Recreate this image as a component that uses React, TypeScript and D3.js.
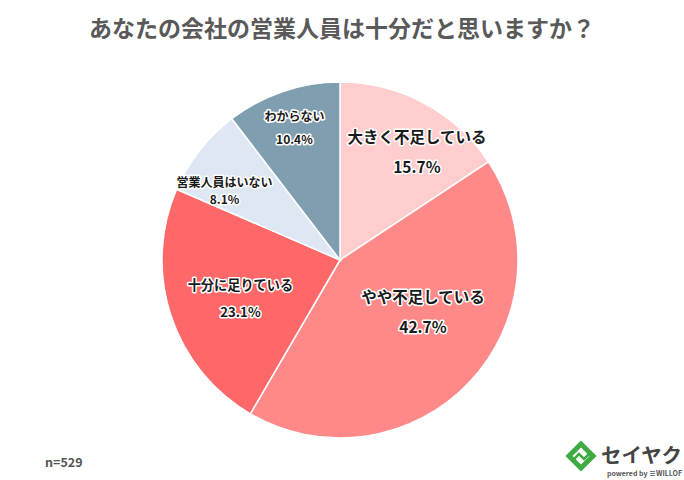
import React from "react";
import * as d3 from "d3";

const categories = ["大きく不足している", "やや不足している", "十分に足りている", "営業人員はいない", "わからない"];
const values = [15.7, 42.7, 23.1, 8.1, 10.4];
const colors = ["#FFCDCD", "#FF8888", "#FF6868", "#DEE8F5", "#7F9FB1"];
const title = "あなたの会社の営業人員は十分だと思いますか？";
const note = "n=529";

// label placement: radius fraction, angle shift (deg) from slice bisector, font size, line gap
const labelStyle = [
  { size: 15.5, r: 0.745, shift: 7.2, gap: 30 },
  { size: 15.5, r: 0.55, shift: -11.3, gap: 30 },
  { size: 13.2, r: 0.6, shift: -3, gap: 27 },
  { size: 12, r: 0.756, shift: -7.1, gap: 17 },
  { size: 12, r: 0.782, shift: -0.4, gap: 23 },
];

export default function App() {
  const W = 684, H = 480;
  const cx = 340, cy = 260, R = 178;
  const pie = d3.pie<number>().sort(null).value((d) => d)(values);
  const arc = d3.arc<d3.PieArcDatum<number>>().innerRadius(0).outerRadius(R);
  const font = "'Noto Sans CJK JP', 'Noto Sans', sans-serif";

  return (
    <svg width={W} height={H} style={{ position: "absolute", left: 0, top: 0, background: "#fff" }}>
      <rect width={W} height={H} fill="#fff" />
      <text x={342} y={37} textAnchor="middle" fontFamily={font} fontWeight={700} fontSize={23} fill="#595959">
        {title}
      </text>
      <g transform={`translate(${cx},${cy})`}>
        {pie.map((p, i) => (
          <path key={i} d={arc(p) || ""} fill={colors[i]} stroke="#fff" strokeWidth={1.5} />
        ))}
        {pie.map((p, i) => {
          const ls = labelStyle[i];
          const a = (p.startAngle + p.endAngle) / 2 + (ls.shift * Math.PI) / 180;
          const x = Math.sin(a) * R * ls.r;
          const y = -Math.cos(a) * R * ls.r;
          const off = ls.size * 0.36;
          return (
            <g key={"l" + i} fontFamily={font} fontWeight={700} fontSize={ls.size} fill="#1a1a1a" textAnchor="middle"
              stroke="#fff" strokeWidth={3} strokeLinejoin="round" style={{ paintOrder: "stroke" }}>
              <text x={x} y={y - ls.gap / 2 + off}>{categories[i]}</text>
              <text x={x} y={y + ls.gap / 2 + off}>{values[i].toFixed(1)}%</text>
            </g>
          );
        })}
      </g>
      <text x={45} y={467} fontFamily={font} fontWeight={700} fontSize={12.5} fill="#555">{note}</text>
      <g transform="translate(581,456)">
        <rect x={-11} y={-11} width={22} height={22} transform="rotate(45)" fill="#3DAA42" />
        <rect x={-6} y={-6} width={12} height={12} transform="rotate(45)" fill="#fff" />
        <path d="M-8,4 L-2,-2 L3,3 L8,-2" fill="none" stroke="#3DAA42" strokeWidth={2.5} />
      </g>
      <text x={601} y={463} fontFamily={font} fontWeight={700} fontSize={20} fill="#444" textLength={81} lengthAdjust="spacingAndGlyphs">セイヤク</text>
      <text x={607} y={476} fontFamily={font} fontWeight={700} fontSize={7} fill="#555" textLength={75} lengthAdjust="spacingAndGlyphs">powered by ≡WILLOF</text>
    </svg>
  );
}
